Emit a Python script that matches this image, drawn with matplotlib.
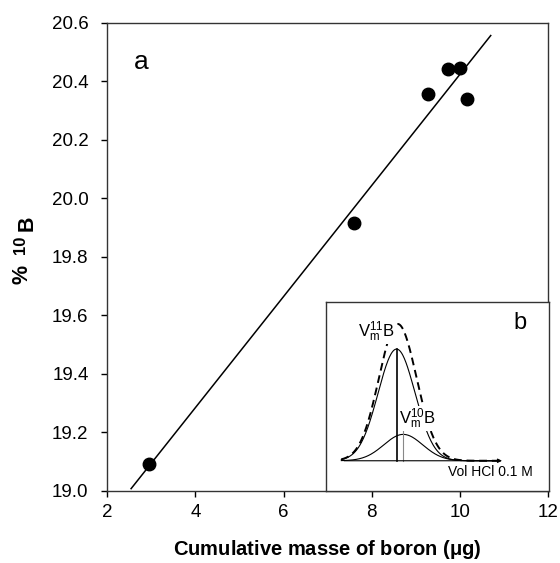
import numpy as np
import matplotlib
matplotlib.use("Agg")
import matplotlib.pyplot as plt

plt.rcParams["font.family"] = ["Liberation Sans", "DejaVu Sans"]
plt.rcParams["mathtext.fontset"] = "custom"
plt.rcParams["mathtext.rm"] = "Liberation Sans"
plt.rcParams["mathtext.bf"] = "Liberation Sans:bold"

# panel a: measured points
mass_ug = [2.95, 7.59, 9.27, 9.73, 10.0, 10.16]
pct_10b = [19.09, 19.914, 20.356, 20.44, 20.444, 20.34]
fit_range = [2.54, 10.7]

x_ticks = [2, 4, 6, 8, 10, 12]
y_ticks = [19.0, 19.2, 19.4, 19.6, 19.8, 20.0, 20.2, 20.4, 20.6]

# panel b: schematic elution peaks (inset units, percent of box)
baseline = 15.9
peak_11b = dict(center=31.7, height=59.3, width=8.3)
peak_10b = dict(center=34.7, height=14.0, width=8.7)
curve_span = [6.9, 78.0]


def peak(x, p):
    return p["height"] * np.exp(-0.5 * ((x - p["center"]) / p["width"]) ** 2)


W, H = 560, 563
fig = plt.figure(figsize=(W / 100, H / 100), dpi=100)
ax = fig.add_axes([0.1916, 0.1284, 0.787, 0.8313])

ax.plot(mass_ug, pct_10b, "o", color="black", markersize=9)
slope, inter = np.polyfit(mass_ug, pct_10b, 1)
xf = np.array(fit_range)
ax.plot(xf, slope * xf + inter, color="black", lw=1.1)

ax.set_xlim(2, 12)
ax.set_ylim(19.0, 20.6)
ax.set_xticks(x_ticks)
ax.set_yticks(y_ticks)
ax.set_yticklabels([f"{v:.1f}" for v in y_ticks])
ax.tick_params(direction="out", length=4.5, width=1, labelsize=13.5)
ax.tick_params(axis="x", pad=5)
ax.tick_params(axis="y", pad=9)
for s in ax.spines.values():
    s.set_linewidth(1.0)
    s.set_color("#333333")

ax.set_xlabel(r"Cumulative masse of boron ($\mathregular{\mu}$g)", fontsize=14.5,
              fontweight="bold", labelpad=12)
# y label "% 10B" with a large superscript, placed piece by piece
ylab = dict(rotation=90, ha="center", va="center", fontweight="bold")
fig.text(22.5 / W, 1 - 274 / H, "%", fontsize=15.5, **ylab)
fig.text(20.5 / W, 1 - 245 / H, "10", fontsize=12, **ylab)
fig.text(27 / W, 1 - 223 / H, "B", fontsize=15.5, **ylab)
ax.text(0.06, 0.9, "a", transform=ax.transAxes, fontsize=19)

# inset b
ins = fig.add_axes([0.5821, 0.1284, 0.3977, 0.3346])
ins.set_xlim(0, 100)
ins.set_ylim(0, 100)
ins.set_xticks([])
ins.set_yticks([])
for s in ins.spines.values():
    s.set_linewidth(1.0)
    s.set_color("#333333")

x = np.linspace(curve_span[0], curve_span[1], 300)
y11 = peak(x, peak_11b)
y10 = peak(x, peak_10b)
ins.plot(x, baseline + y11, color="black", lw=0.8)
ins.plot(x, baseline + y10, color="black", lw=0.8)
ins.plot(x, baseline + y11 + y10, color="black", lw=1.4, ls=(0, (4, 2.5)))
ins.plot([peak_11b["center"]] * 2, [baseline, baseline + peak_11b["height"]],
         color="black", lw=1.2)
ins.plot([peak_10b["center"]] * 2, [baseline, baseline + peak_10b["height"] + 3.5],
         color="#888888", lw=0.8)
ins.annotate("", xy=(80.3, baseline), xytext=(6.9, baseline),
             arrowprops=dict(arrowstyle="-|>", color="black", lw=0.8,
                             mutation_scale=6))

ins.text(22.7, 84.5, r"$\mathregular{V_m^{11}B}$", fontsize=12, ha="center",
         va="center", bbox=dict(facecolor="white", edgecolor="none", pad=0.5))
ins.text(41.1, 38.3, r"$\mathregular{V_m^{10}B}$", fontsize=12, ha="center",
         va="center", bbox=dict(facecolor="white", edgecolor="none", pad=0.5))
ins.text(87.1, 88.9, "b", fontsize=17, ha="center", va="center")
ins.text(73.6, 9.9, "Vol HCl 0.1 M", fontsize=10, ha="center", va="center")

fig.savefig("out.png", dpi=100)
